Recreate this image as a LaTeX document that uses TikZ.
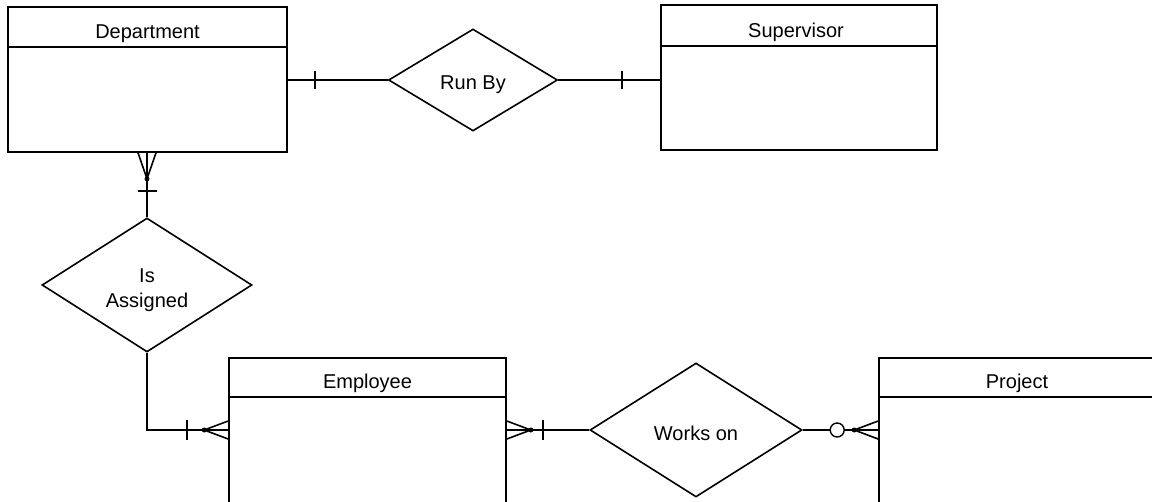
\documentclass[tikz,border=0pt]{standalone}
\usepackage{fontspec}
\setmainfont{Liberation Sans}
\usetikzlibrary{shapes.geometric,calc}
\newcommand\erfont{\fontsize{20}{25}\selectfont}
\begin{document}
\begin{tikzpicture}[x=1pt,y=-1pt,
  line width=1.6pt,
  entity/.style={draw, rectangle, inner sep=0pt},
  relation/.style={draw, diamond, inner sep=0pt},
  title/.style={anchor=base, inner sep=0pt, font=\erfont},
  link/.style={draw, line width=1.6pt},
  dot/.style={fill, circle, inner sep=0pt, minimum size=5pt},
  ring/.style={draw, fill=white, circle, inner sep=0pt, minimum size=14pt, line width=1.4pt}]
\clip (0,0) rectangle (1152,501);
\fill[white] (0,0) rectangle (1152,501);

% entities
\node[entity, minimum width=279pt, minimum height=145pt] (dept) at (147.5,79.5) {};
\node[entity, minimum width=276pt, minimum height=145pt] (sup) at (799,77.5) {};
\node[entity, minimum width=277pt, minimum height=182pt] (emp) at (367.5,449) {};
\node[entity, minimum width=276pt, minimum height=182pt] (proj) at (1017,449) {};

% header separators
\draw[link] ($(dept.north west)+(0,41)$) -- ($(dept.north east)+(0,41)$);
\draw[link] ($(sup.north west)+(0,42)$) -- ($(sup.north east)+(0,42)$);
\draw[link] ($(emp.north west)+(0,40)$) -- ($(emp.north east)+(0,40)$);
\draw[link] ($(proj.north west)+(0,40)$) -- ($(proj.north east)+(0,40)$);

% entity titles
\node[title] (deptT) at (147.5,38) {Department};
\node[title] (supT) at (796,37) {Supervisor};
\node[title] (empT) at (367.5,388) {Employee};
\node[title] (projT) at (1017,388) {Project};

% relationships
\node[relation, minimum width=169pt, minimum height=102pt] (runby) at (473,80) {};
\node[relation, minimum width=210pt, minimum height=134pt] (isa) at (147,285) {};
\node[relation, minimum width=212pt, minimum height=134pt] (works) at (696,430) {};

\node[title] (runbyT) at (473,89) {Run By};
\node[title] (isaT1) at (147,282) {Is};
\node[title] (isaT2) at (147,307) {Assigned};
\node[title] (worksT) at (696,440) {Works on};

% Department -- Run By -- Supervisor (one and only one on both sides)
\coordinate (dR) at (dept.east |- runby.west);
\draw[link] (dR) -- (runby.west);
\draw[link] ($(dR)+(27,-9)$) -- ++(0,18);
\coordinate (sL) at (runby.east -| sup.west);
\draw[link] (runby.east) -- (sL);
\draw[link] ($(sL)+(-38,-9)$) -- ++(0,18);

% Department -- Is Assigned (many at Department, one at relationship)
\coordinate (dB) at (isa.north |- dept.south);
\coordinate (dF) at ($(dB)+(0,26)$);
\draw[link] (isa.north) -- (dB);
\draw[link] (dF) -- ++(-9,-26) (dF) -- ++(9,-26);
\node[dot] (dFdot) at (dF) {};
\draw[link] ($(isa.north)+(-9.5,-26)$) -- ++(19,0);

% Is Assigned -- Employee
\coordinate (eL) at (works.west -| emp.west);
\coordinate (eLf) at ($(eL)+(-24,0)$);
\draw[link] (isa.south) |- (eL);
\draw[link] (eLf) -- ($(eL)+(0,-9)$) (eLf) -- ($(eL)+(0,9)$);
\node[dot] (eLdot) at (eLf) {};
\draw[link] ($(eL)+(-41,-10)$) -- ++(0,20);

% Employee -- Works on
\coordinate (eR) at (works.west -| emp.east);
\coordinate (eRf) at ($(eR)+(24,0)$);
\draw[link] (eR) -- (works.west);
\draw[link] (eRf) -- ($(eR)+(0,-9)$) (eRf) -- ($(eR)+(0,9)$);
\node[dot] (eRdot) at (eRf) {};
\draw[link] ($(eR)+(36,-10)$) -- ++(0,20);

% Works on -- Project (zero or many)
\coordinate (pL) at (works.east -| proj.west);
\coordinate (pLf) at ($(pL)+(-24,0)$);
\draw[link] (works.east) -- (pL);
\draw[link] (pLf) -- ($(pL)+(0,-9)$) (pLf) -- ($(pL)+(0,9)$);
\node[dot] (pLdot) at (pLf) {};
\node[ring] (pRing) at ($(pL)+(-41,0)$) {};
\end{tikzpicture}
\end{document}
